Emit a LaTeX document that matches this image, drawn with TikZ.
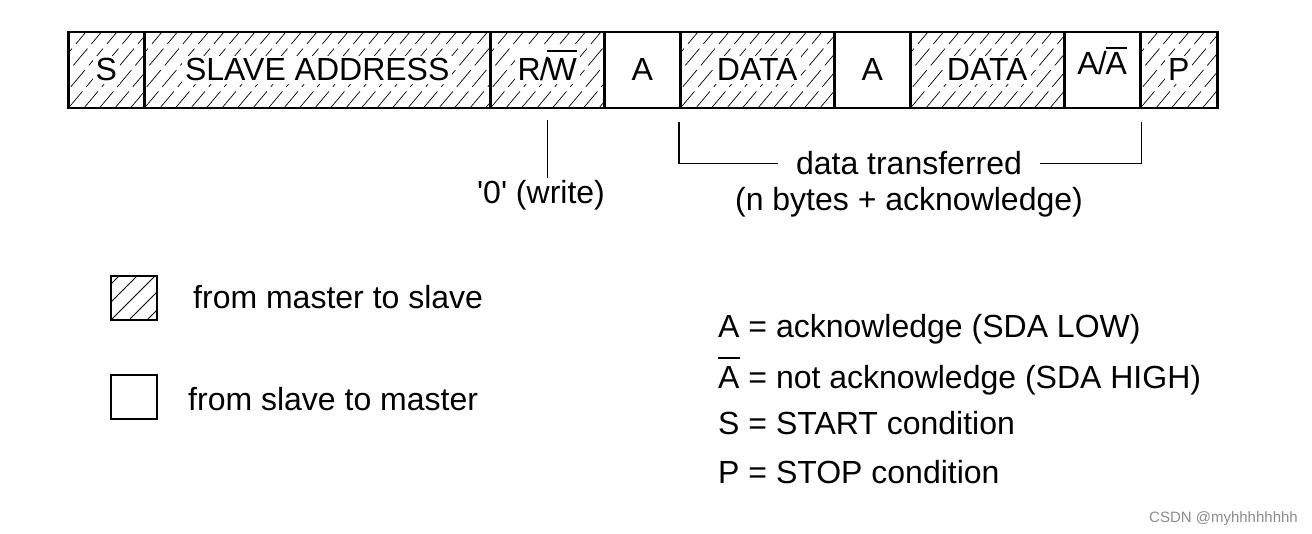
\documentclass[tikz,border=0pt]{standalone}
\usepackage{fontspec}
\setmainfont{Liberation Sans}
\newcommand\myovl[2][5pt]{\leavevmode\vbox{\hrule height 1.6pt\kern #1\hbox{#2}}}
\begin{document}
\begin{tikzpicture}[x=1pt,y=-1pt,
  every node/.style={font=\fontsize{32}{38}\selectfont},
  cell/.style={draw, line width=2.5pt, minimum height=76pt, inner sep=0pt, anchor=north west},
  hatch/.style={path picture={
    \foreach \i in {-7,...,25} {
      \draw[line width=0.7pt, dash pattern=on 22pt off 6pt]
        ([xshift=\i*15.5pt]path picture bounding box.south west) -- ++(80pt,95pt);
    }}},
  lhatch/.style={path picture={
    \foreach \i in {-3,...,3} {
      \draw[line width=0.9pt]
        ([xshift=\i*18pt]path picture bounding box.south west) -- ++(60pt,60pt);
    }}},
  lbl/.style={anchor=base, inner sep=3pt},
  hlbl/.style={lbl, fill=white},
  conn/.style={line width=1.3pt},
  key/.style={anchor=base west, inner sep=0pt},
  legbox/.style={draw, line width=1.5pt, minimum width=46pt, minimum height=44pt, inner sep=0pt}
]
\useasboundingbox (0,0) rectangle (1312,534);
% frame cells
\node[cell,hatch,minimum width=76pt]  (s)  at (67,31)   {};
\node[cell,hatch,minimum width=346pt] (sa) at (143,31)  {};
\node[cell,hatch,minimum width=114pt] (rw) at (489,31)  {};
\node[cell,minimum width=76pt]        (a1) at (603,31)  {};
\node[cell,hatch,minimum width=154pt] (d1) at (679,31)  {};
\node[cell,minimum width=76pt]        (a2) at (833,31)  {};
\node[cell,hatch,minimum width=154pt] (d2) at (909,31)  {};
\node[cell,minimum width=76pt]        (an) at (1063,31) {};
\node[cell,hatch,minimum width=77pt]  (p)  at (1139,31) {};
% cell labels
\node[hlbl] (ts)  at (s.center |- 0,81)  {S};
\node[hlbl] (tsa) at (sa.center |- 0,81) {SLAVE ADDRESS};
\node[hlbl] (trw) at (rw.center |- 0,81) {R\kern-1pt/\kern-2pt\myovl[7pt]{W}};
\node[lbl]  (ta1) at (a1.center |- 0,81) {A};
\node[hlbl] (td1) at (d1.center |- 0,81) {DATA};
\node[lbl]  (ta2) at (a2.center |- 0,81) {A};
\node[hlbl] (td2) at (d2.center |- 0,81) {DATA};
\node[lbl]  (tan) at (an.center |- 0,75) {A\kern-1pt/\kern-1pt\myovl[4pt]{A}};
\node[hlbl] (tp)  at (p.center |- 0,81)  {P};
% R/W annotation
\node[lbl] (zero) at (541,204) {\textquotesingle0\textquotesingle{} (write)};
\draw[conn] ([yshift=-11pt]rw.south) -- (rw.south |- zero.north);
% data transferred bracket
\node[lbl, inner xsep=18pt] (dt) at (909,175) {data transferred};
\node[lbl] (nb) at (909,211) {(n bytes + acknowledge)};
\draw[conn] ([yshift=-13pt]d1.south west) |- (dt.west);
\draw[conn] (dt.east) -| ([yshift=-13pt]an.south east);
% legend
\node[legbox,lhatch] (lh) at (134,298) {};
\node[key] (lht) at (193,309) {from master to slave};
\node[legbox] (ls) at (134,397) {};
\node[key] (lst) at (188,410) {from slave to master};
\node[key] (k1) at (718,337.5) {A = acknowledge (SDA LOW)};
\node[key] (k2) at (718,389) {\myovl[8pt]{A} = not acknowledge (SDA HIGH)};
\node[key] (k3) at (718,434.5) {S = START condition};
\node[key] (k4) at (718,483.5) {P = STOP condition};
% watermark
\node[anchor=base east, inner sep=0pt, text=black!45, font=\fontsize{15}{18}\selectfont] (wm) at (1298,522) {CSDN @myhhhhhhhh};
\end{tikzpicture}
\end{document}
